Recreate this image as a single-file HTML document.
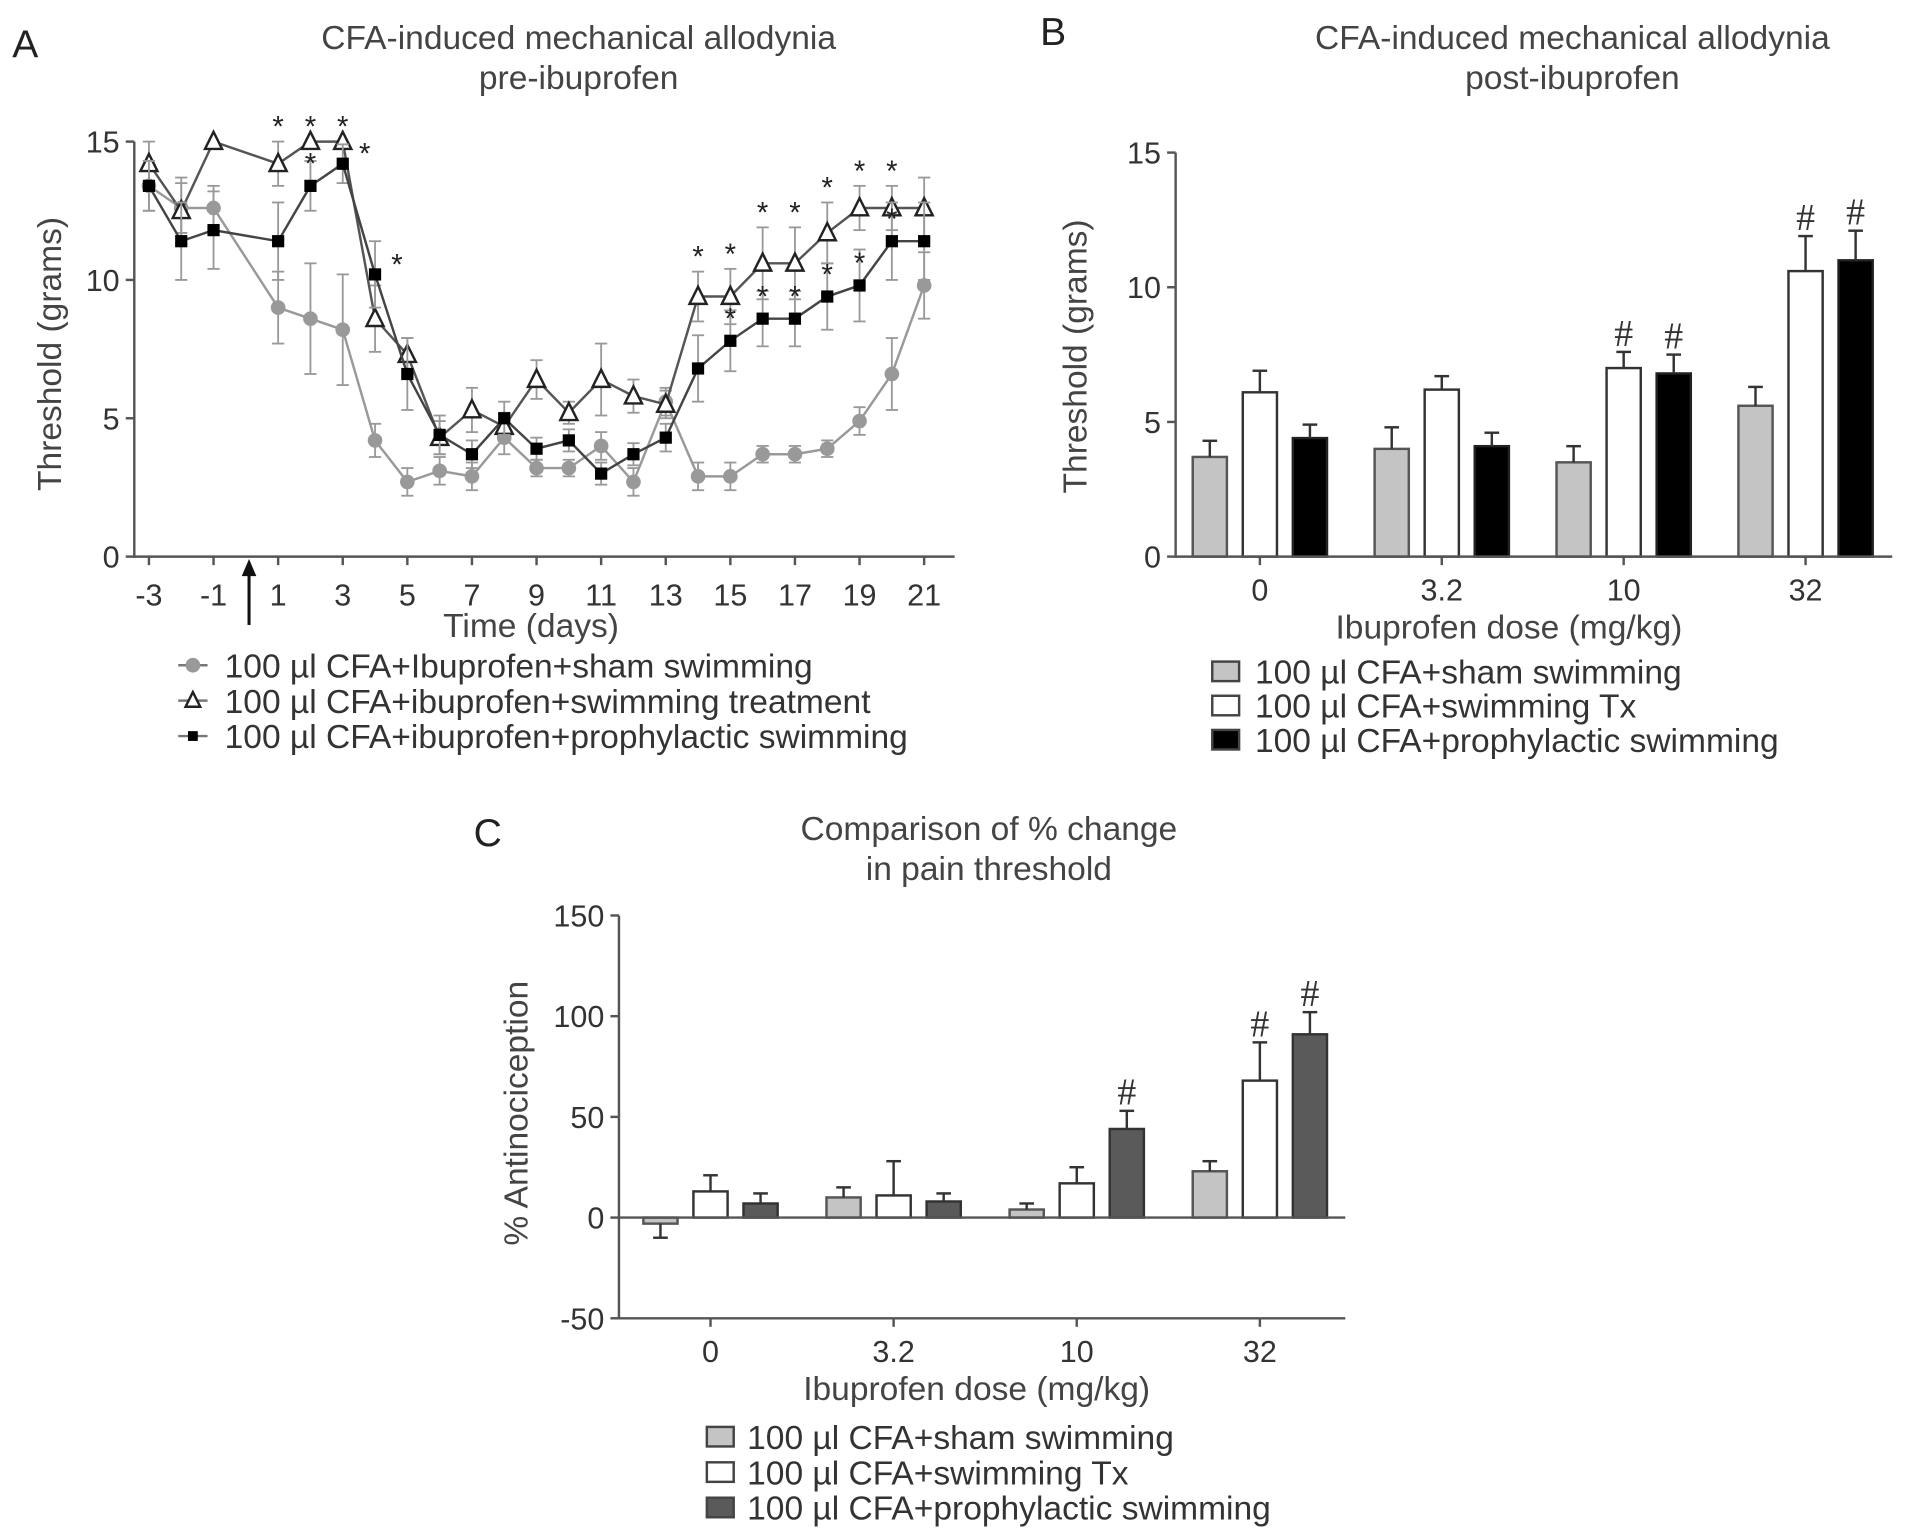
<!DOCTYPE html>
<html><head><meta charset="utf-8"><style>
html,body{margin:0;padding:0;background:#fff;}
svg{display:block;font-family:"Liberation Sans",sans-serif;}
</style></head><body>
<svg id="fig" width="1913" height="1538" viewBox="0 0 1567 1260" preserveAspectRatio="none" xmlns="http://www.w3.org/2000/svg">
<g id="A"></g>
<g id="B"></g>
<g id="C"></g>
</svg>
<script>
// Panel A data
const daysA = [-3,-2,-1,1,2,3,4,5,6,7,8,9,10,11,12,13,14,15,16,17,18,19,20,21];
const shamA = [13.4,12.6,12.6,9.0,8.6,8.2,4.2,2.7,3.1,2.9,4.3,3.2,3.2,4.0,2.7,5.6,2.9,2.9,3.7,3.7,3.9,4.9,6.6,9.8];
const shamErrA = [0.9,0.9,0.8,1.3,2.0,2.0,0.6,0.5,0.5,0.5,0.6,0.3,0.3,0.5,0.5,0.5,0.5,0.5,0.3,0.3,0.3,0.5,1.3,1.2];
const triA = [14.2,12.5,15.0,14.2,15.0,15.0,8.6,7.3,4.3,5.3,4.7,6.4,5.2,6.4,5.8,5.5,9.4,9.4,10.6,10.6,11.7,12.6,12.6,12.6];
const triErrA = [0.8,1.2,0,0.8,0,0,1.2,0.6,0.6,0.8,0.5,0.7,0.4,1.3,0.6,0.5,0.9,1.0,1.3,1.3,1.1,0.8,0.8,1.1];
const sqA = [13.4,11.4,11.8,11.4,13.4,14.2,10.2,6.6,4.4,3.7,5.0,3.9,4.2,3.0,3.7,4.3,6.8,7.8,8.6,8.6,9.4,9.8,11.4,11.4];
const sqErrA = [0.9,1.4,1.4,1.4,0.9,0.7,1.2,1.3,0.7,0.5,0.6,0.4,0.4,0.4,0.4,0.5,1.2,1.1,1.0,1.0,1.2,1.3,1.4,1.4];
const starTriA = [1,2,3,14,15,16,17,18,19,20];
const starSqA = [2,3,4,15,16,17,18,19,20];
const yTicksA = [0,5,10,15];
const xTicksA = [-3,-1,1,3,5,7,9,11,13,15,17,19,21];
// Panel B data
const dosesB = ["0","3.2","10","32"];
const shamB = [3.7,4.0,3.5,5.6];
const shamErrB = [0.6,0.8,0.6,0.7];
const txB = [6.1,6.2,7.0,10.6];
const txErrB = [0.8,0.5,0.6,1.3];
const proB = [4.4,4.1,6.8,11.0];
const proErrB = [0.5,0.5,0.7,1.1];
const hashTxB = [false,false,true,true];
const hashProB = [false,false,true,true];
const yTicksB = [0,5,10,15];
// Panel C data
const dosesC = ["0","3.2","10","32"];
const shamC = [-3,10,4,23];
const shamErrC = [7,5,3,5];
const txC = [13,11,17,68];
const txErrC = [8,17,8,19];
const proC = [7,8,44,91];
const proErrC = [5,4,9,11];
const hashC = [[false,false,false],[false,false,false],[false,false,true],[false,true,true]];
const yTicksC = [-50,0,50,100,150];

const NS="http://www.w3.org/2000/svg";
const FS=27.5, TS=25;
function mk(parent,tag,attrs,text){const e=document.createElementNS(NS,tag);for(const k in attrs)e.setAttribute(k,attrs[k]);if(text!==undefined)e.textContent=text;parent.appendChild(e);return e;}
const A=document.getElementById('A'),B=document.getElementById('B'),C=document.getElementById('C');

// ---- Panel A ----
const xA=d=>122+(d+3)*(635/24);
const yA=v=>456-v*(340/15);
let t;
t=mk(A,'text',{x:10,y:47,'font-size':32,fill:'#222'},'A');


t=mk(A,'text',{x:474,y:40,'font-size':FS,fill:'#444','text-anchor':'middle'},'CFA-induced mechanical allodynia');


mk(A,'text',{x:474,y:73,'font-size':FS,fill:'#444','text-anchor':'middle'},'pre-ibuprofen');
mk(A,'line',{x1:110,y1:116,x2:110,y2:457,stroke:'#555','stroke-width':2});
mk(A,'line',{x1:109,y1:456,x2:782,y2:456,stroke:'#555','stroke-width':2});
yTicksA.forEach(v=>{mk(A,'line',{x1:103,y1:yA(v),x2:110,y2:yA(v),stroke:'#555','stroke-width':2});
 t=mk(A,'text',{x:98,y:yA(v)+9,'font-size':TS,fill:'#333','text-anchor':'end'},String(v));
 
 });
xTicksA.forEach(d=>{mk(A,'line',{x1:xA(d),y1:456,x2:xA(d),y2:463,stroke:'#555','stroke-width':2});
 t=mk(A,'text',{x:xA(d),y:496,'font-size':TS,fill:'#333','text-anchor':'middle'},String(d));
 
 });
t=mk(A,'text',{x:50,y:290,'font-size':FS,fill:'#444','text-anchor':'middle',transform:'rotate(-90 50 290)'},'Threshold (grams)');


t=mk(A,'text',{x:435,y:522,'font-size':FS,fill:'#444','text-anchor':'middle'},'Time (days)');


t=mk(A,'line',{x1:204,y1:468,x2:204,y2:512,stroke:'#111','stroke-width':2.5});


mk(A,'polygon',{points:'198,472 210,472 204,458',fill:'#111'});
function series(vals,errs,color,mark,name){
 const g=mk(A,'g',{});
 
 
 vals.forEach((v,i)=>{const x=xA(daysA[i]);if(errs[i]>0){mk(g,'line',{x1:x,y1:yA(v-errs[i]),x2:x,y2:yA(v+errs[i]),stroke:'#999','stroke-width':1.5});
  [v-errs[i],v+errs[i]].forEach(e=>mk(g,'line',{x1:x-5,y1:yA(e),x2:x+5,y2:yA(e),stroke:'#999','stroke-width':1.5}));}});
 mk(g,'polyline',{points:vals.map((v,i)=>xA(daysA[i])+','+yA(v)).join(' '),fill:'none',stroke:color,'stroke-width':2});
 vals.forEach((v,i)=>{const x=xA(daysA[i]),y=yA(v);let m;
  if(mark==='c')m=mk(g,'circle',{cx:x,cy:y,r:6,fill:'#999'});
  else if(mark==='t')m=mk(g,'polygon',{points:`${x},${y-8} ${x-7},${y+6} ${x+7},${y+6}`,fill:'#fff',stroke:'#222','stroke-width':2});
  else m=mk(g,'rect',{x:x-5,y:y-5,width:10,height:10,fill:'#000'});
  
  });
}
series(shamA,shamErrA,'#999','c','series-sham');
series(triA,triErrA,'#555','t','series-swimming-treatment');
series(sqA,sqErrA,'#444','s','series-prophylactic');
starTriA.forEach(d=>{const i=daysA.indexOf(d);mk(A,'text',{x:xA(d),y:yA(triA[i]+triErrA[i])-4,'font-size':24,'text-anchor':'middle',fill:'#222'},'*');});
starSqA.forEach(d=>{const i=daysA.indexOf(d);const dx=(d===3||d===4)?18:0;mk(A,'text',{x:xA(d)+dx,y:yA(sqA[i])-(dx?0:10),'font-size':24,'text-anchor':'middle',fill:'#222'},'*');});
// legend A
const legA=[['c','100 µl CFA+Ibuprofen+sham swimming'],['t','100 µl CFA+ibuprofen+swimming treatment'],['s','100 µl CFA+ibuprofen+prophylactic swimming']];
legA.forEach((l,i)=>{const y=545+i*29,x=158;const g=mk(A,'g',{});
 
 
 mk(g,'line',{x1:x-12,y1:y,x2:x+12,y2:y,stroke:'#777','stroke-width':2});
 if(l[0]==='c')mk(g,'circle',{cx:x,cy:y,r:6,fill:'#999'});
 else if(l[0]==='t')mk(g,'polygon',{points:`${x},${y-7} ${x-6},${y+5} ${x+6},${y+5}`,fill:'#fff',stroke:'#222','stroke-width':2});
 else mk(g,'rect',{x:x-4,y:y-4,width:8,height:8,fill:'#000'});
 mk(g,'text',{x:184,y:y+10,'font-size':FS,fill:'#333'},l[1]);});

// ---- Bar panel helper ----
function barPanel(P,cfg){
 const {x0,x1,yv,cats,cx,series,ticks}=cfg;
 ticks.forEach(v=>{mk(P,'line',{x1:x0-7,y1:yv(v),x2:x0,y2:yv(v),stroke:'#555','stroke-width':2});
  const tt=mk(P,'text',{x:x0-12,y:yv(v)+9,'font-size':TS,fill:'#333','text-anchor':'end'},String(v));
  
  });
 cats.forEach((c,i)=>{mk(P,'line',{x1:cx(i),y1:cfg.xAxisY,x2:cx(i),y2:cfg.xAxisY+7,stroke:'#555','stroke-width':2});
  const tt=mk(P,'text',{x:cx(i),y:cfg.xAxisY+36,'font-size':TS,fill:'#333','text-anchor':'middle'},c);
  
  });
 series.forEach((s,si)=>{s.vals.forEach((v,i)=>{const x=cx(i)+s.off;const top=yv(Math.max(v,0)),bot=yv(Math.min(v,0));
  const r=mk(P,'rect',{x:x-14,y:top,width:28,height:Math.max(bot-top,1),fill:s.fill,stroke:s.stroke,'stroke-width':2});
  
  
  const ey=v>=0?v+s.err[i]:v-s.err[i];
  mk(P,'line',{x1:x,y1:yv(v),x2:x,y2:yv(ey),stroke:'#333','stroke-width':2});
  mk(P,'line',{x1:x-6,y1:yv(ey),x2:x+6,y2:yv(ey),stroke:'#333','stroke-width':2});
  if(s.hash[i])mk(P,'text',{x:x,y:yv(ey)-5,'font-size':31,fill:'#333','text-anchor':'middle','font-family':'Liberation Serif'},'#');
 });});
 mk(P,'line',{x1:x0,y1:cfg.yTop,x2:x0,y2:cfg.yBot,stroke:'#555','stroke-width':2});
 mk(P,'line',{x1:x0,y1:cfg.xAxisY,x2:x1,y2:cfg.xAxisY,stroke:'#555','stroke-width':2});
 if(cfg.zeroY)mk(P,'line',{x1:x0,y1:cfg.zeroY,x2:x1,y2:cfg.zeroY,stroke:'#555','stroke-width':2});
}
// ---- Panel B ----
const yB=v=>456-v*(331/15);
const cxB=i=>1032+i*149;
mk(B,'text',{x:852,y:37,'font-size':32,fill:'#222'},'B');
t=mk(B,'text',{x:1288,y:40,'font-size':FS,fill:'#444','text-anchor':'middle'},'CFA-induced mechanical allodynia');


mk(B,'text',{x:1288,y:73,'font-size':FS,fill:'#444','text-anchor':'middle'},'post-ibuprofen');
barPanel(B,{x0:963,x1:1550,yv:yB,cats:dosesB,cx:cxB,ticks:yTicksB,yTop:125,yBot:457,xAxisY:456,
 series:[{vals:shamB,err:shamErrB,off:-41,fill:'#c4c4c4',stroke:'#555',hash:[false,false,false,false]},
 {vals:txB,err:txErrB,off:0,fill:'#fff',stroke:'#333',hash:hashTxB},
 {vals:proB,err:proErrB,off:41,fill:'#000',stroke:'#222',hash:hashProB}]});
t=mk(B,'text',{x:890,y:292,'font-size':FS,fill:'#444','text-anchor':'middle',transform:'rotate(-90 890 292)'},'Threshold (grams)');


mk(B,'text',{x:1236,y:523,'font-size':FS,fill:'#444','text-anchor':'middle'},'Ibuprofen dose (mg/kg)');
[['#c4c4c4','100 µl CFA+sham swimming'],['#fff','100 µl CFA+swimming Tx'],['#000','100 µl CFA+prophylactic swimming']].forEach((l,i)=>{const y=550+i*28;const g=mk(B,'g',{});
 
 
 mk(g,'rect',{x:993,y:y-8,width:22,height:16,fill:l[0],stroke:'#444','stroke-width':2});
 mk(g,'text',{x:1028,y:y+10,'font-size':FS,fill:'#333'},l[1]);});

// ---- Panel C ----
const yC=v=>997.5-v*1.65;
const cxC=i=>582+i*150;
mk(C,'text',{x:388,y:693,'font-size':32,fill:'#222'},'C');
t=mk(C,'text',{x:810,y:688,'font-size':FS,fill:'#444','text-anchor':'middle'},'Comparison of % change');


mk(C,'text',{x:810,y:721,'font-size':FS,fill:'#444','text-anchor':'middle'},'in pain threshold');
barPanel(C,{x0:507,x1:1102,yv:yC,cats:dosesC,cx:cxC,ticks:yTicksC,yTop:750,yBot:1081,xAxisY:1080,zeroY:997.5,
 series:[{vals:shamC,err:shamErrC,off:-41,fill:'#c4c4c4',stroke:'#555',hash:hashC.map(h=>h[0])},
 {vals:txC,err:txErrC,off:0,fill:'#fff',stroke:'#333',hash:hashC.map(h=>h[1])},
 {vals:proC,err:proErrC,off:41,fill:'#5a5a5a',stroke:'#333',hash:hashC.map(h=>h[2])}]});
t=mk(C,'text',{x:432,y:912,'font-size':FS,fill:'#444','text-anchor':'middle',transform:'rotate(-90 432 912)'},'% Antinociception');


mk(C,'text',{x:800,y:1147,'font-size':FS,fill:'#444','text-anchor':'middle'},'Ibuprofen dose (mg/kg)');
[['#c4c4c4','100 µl CFA+sham swimming'],['#fff','100 µl CFA+swimming Tx'],['#5a5a5a','100 µl CFA+prophylactic swimming']].forEach((l,i)=>{const y=1177+i*29;const g=mk(C,'g',{});
 
 
 mk(g,'rect',{x:579,y:y-8,width:22,height:16,fill:l[0],stroke:'#444','stroke-width':2});
 mk(g,'text',{x:612,y:y+10,'font-size':FS,fill:'#333'},l[1]);});
</script>
</body></html>
